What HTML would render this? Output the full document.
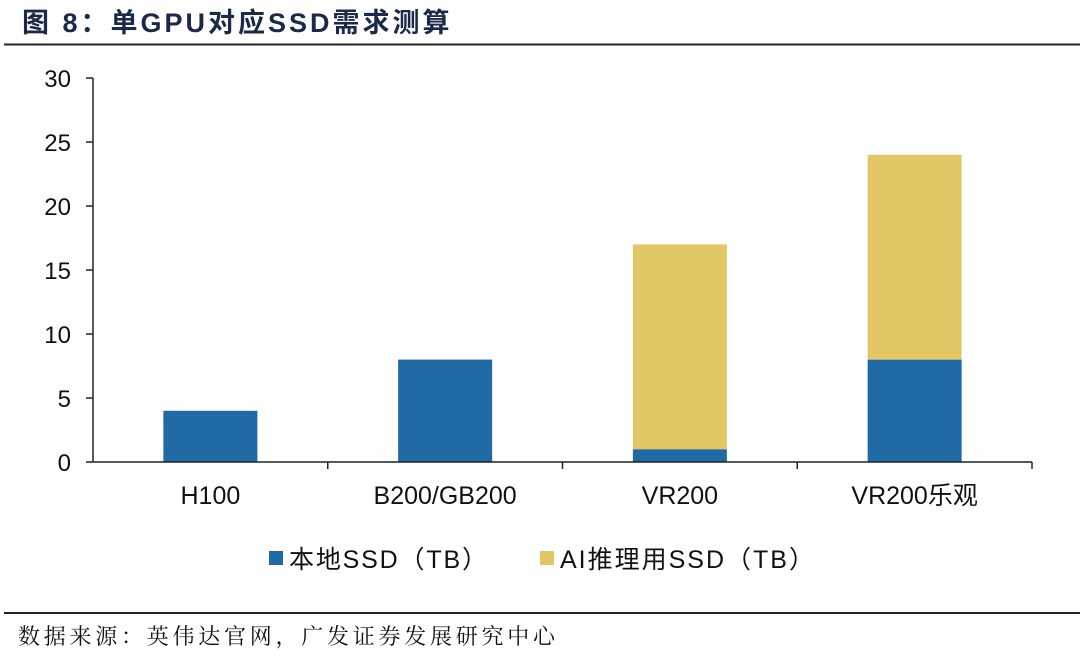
<!DOCTYPE html>
<html><head><meta charset="utf-8"><style>
body{margin:0;width:1080px;height:664px;background:#fff;overflow:hidden;font-family:"Liberation Sans","Noto Sans CJK SC",sans-serif;}
</style></head><body>
<svg width="1080" height="664">
<text x="22" y="32" font-size="27" font-weight="bold" fill="#1b2a48" letter-spacing="3" font-family="Liberation Sans, Noto Sans CJK SC, sans-serif">图  8：单GPU对应SSD需求测算</text>
<line x1="4" y1="44.5" x2="1080" y2="44.5" stroke="#222" stroke-width="2"/>
<g id="plot"></g>
<g>
<rect x="269" y="551" width="14" height="14" fill="#1f6aa5"/>
<text x="289" y="568" font-size="25" fill="#111" textLength="198">本地SSD（TB）</text>
<rect x="540" y="551" width="14" height="14" fill="#e3c766"/>
<text x="560" y="568" font-size="25" fill="#111" textLength="254">AI推理用SSD（TB）</text>
</g>
<line x1="4" y1="613" x2="1080" y2="613" stroke="#222" stroke-width="2"/>
<text x="18" y="644" font-size="22" fill="#111" textLength="537" font-family="Noto Serif CJK SC, serif">数据来源：英伟达官网，广发证券发展研究中心</text>
</svg>
<script>
const categories=["H100","B200/GB200","VR200","VR200乐观"];
const localSSD=[4,8,1,8];
const aiSSD=[0,0,16,16];
const yTicks=[0,5,10,15,20,25,30];
const NS="http://www.w3.org/2000/svg";
const g=document.getElementById('plot');
const x0=93,x1=1032,yb=462,yt=78,ymax=30;
const Y=v=>yb-(v/ymax)*(yb-yt);
const band=(x1-x0)/categories.length;
const bw=94;
const X=i=>x0+band*(i+0.5);
function mk(t,a){const e=document.createElementNS(NS,t);for(const k in a)e.setAttribute(k,a[k]);g.appendChild(e);return e;}
let ax=mk('line',{x1:x0,y1:yt,x2:x0,y2:yb,stroke:'#222','stroke-width':1.5});


yTicks.forEach(t=>{
 const tk=mk('line',{x1:x0-7,y1:Y(t),x2:x0,y2:Y(t),stroke:'#222','stroke-width':1.5});
 
 
 const tx=mk('text',{x:x0-22,y:Y(t)+9,'font-size':24,'text-anchor':'end',fill:'#111'});
 tx.textContent=t;
 
 
});
categories.forEach((c,i)=>{
 const cx=X(i);
 const b1=mk('rect',{x:cx-bw/2,y:Y(localSSD[i]),width:bw,height:yb-Y(localSSD[i]),fill:'#1f6aa5'});
 
 
 if(aiSSD[i]>0){
  const b2=mk('rect',{x:cx-bw/2,y:Y(localSSD[i]+aiSSD[i]),width:bw,height:Y(localSSD[i])-Y(localSSD[i]+aiSSD[i]),fill:'#e3c766'});
  
  
 }
 const tx=mk('text',{x:cx,y:504,'font-size':25,'text-anchor':'middle',fill:'#111'});
 tx.textContent=c;
 
 
 const tk=mk('line',{x1:x0+band*(i+1),y1:yb,x2:x0+band*(i+1),y2:yb+7,stroke:'#222','stroke-width':1.5});
 
 
});
let xa=mk('line',{x1:x0,y1:yb,x2:x1,y2:yb,stroke:'#222','stroke-width':1.5});


</script>
</body></html>
